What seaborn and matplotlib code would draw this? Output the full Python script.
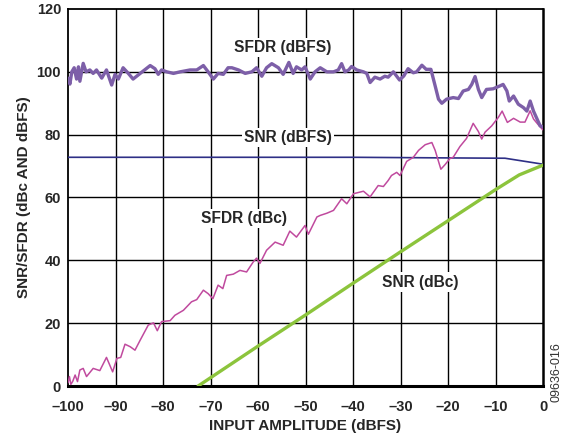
import matplotlib
matplotlib.use("Agg")
import matplotlib.pyplot as plt
import seaborn as sns

# Input amplitude (dBFS) and measured curves
sfdr_dbfs_x = [-100, -99.6, -99.2, -98.7, -98.2, -97.8, -97.5, -96.8, -96.2, -95.4,
               -94.7, -94, -92.9, -91.9, -90.8, -90.1, -89.4, -88.4, -87.3, -86.3,
               -84.8, -82.7, -81.7, -81, -80.3, -79.2, -77.8, -76.4, -74.3, -72.9,
               -71.5, -70.5, -69.4, -68.4, -67.3, -66.3, -65.5, -64.1, -62.7, -61.3,
               -60.3, -59.2, -58.2, -57.1, -55.7, -54.7, -53.5, -52.6, -51.9, -50.8,
               -50.1, -49, -48, -46.9, -45.5, -44.1, -43.1, -42.4, -41.7, -40.9,
               -40.3, -39.2, -37.8, -37.1, -36.4, -35.4, -34.3, -33.3, -32.6, -31.5,
               -30.2, -29.3, -28.4, -27.3, -26.6, -25.5, -24.6, -23.6, -22.7, -22,
               -21.3, -20.3, -18.9, -17.8, -16.8, -15.7, -15, -14.3, -13.6, -12.9,
               -11.9, -10.5, -9.1, -8.4, -7.6, -7.1, -6.2, -5.2, -4.1, -3.4,
               -2.7, -2, -0.6, 0]
sfdr_dbfs_y = [98, 96.1, 100, 101.3, 97.7, 101.6, 97, 102.7, 100, 100.6,
               99.5, 100.6, 98, 100.6, 95.8, 99.2, 97.7, 101.3, 99.5, 97.7,
               99.5, 102, 101, 99.2, 100.6, 100, 99.5, 100, 100.6, 100.6,
               102, 100, 97.7, 99.5, 99.2, 101.3, 101.3, 100.6, 99.5, 100,
               101.3, 98.6, 101.3, 102.6, 101.3, 99.2, 103, 99.5, 101.6, 100.6,
               101.6, 97.7, 100, 101.3, 100, 100, 100.6, 102.6, 100, 100.6,
               101.7, 100.6, 100, 99.5, 96.6, 98.3, 97.7, 98.6, 98.3, 100,
               97.4, 98.7, 101, 99.7, 100, 102.1, 100.8, 100.8, 95.5, 91.3,
               90, 91.3, 91.8, 91.5, 93.9, 94.4, 96, 98.5, 94.4, 91.8,
               94.4, 94.6, 95.5, 96, 93.9, 90.7, 92.3, 89.7, 88.6, 87.5,
               90.7, 87.5, 82.8, 82.5]

snr_dbfs_x = [-100, -80, -60, -40, -30, -20, -8, 0]
snr_dbfs_y = [72.8, 72.8, 72.8, 72.8, 72.7, 72.6, 72.5, 70.6]

sfdr_dbc_x = [-100, -99.7, -99.4, -99, -98.5, -98, -97.5, -96.8, -96.1, -94.7,
              -93.3, -91.9, -90.6, -89.7, -88.9, -88, -86.9, -85.9, -84.8, -83.1,
              -82, -81.2, -80.3, -78.5, -77.5, -75.7, -74, -72.9, -71.5, -70.5,
              -69.5, -68.4, -67.4, -66.6, -65.2, -63.8, -62.4, -61, -60.3, -59.6,
              -58.2, -56.4, -54.7, -53.3, -51.9, -50.1, -49.4, -47.6, -46.9, -45.5,
              -44.1, -42.4, -41.3, -39.9, -37.8, -36.4, -34.7, -33.6, -32.6, -31.9,
              -30.8, -30.1, -28.7, -27.3, -26.2, -24.8, -23.4, -22.7, -21.5, -20.6,
              -19.6, -18.9, -17.5, -16.1, -14.7, -13.6, -12.9, -12.2, -10.8, -9.4,
              -8.6, -7.5, -6.2, -4.8, -3.8, -2.7, -2.0, -0.8, 0]
sfdr_dbc_y = [1, 3, 0.5, 1.5, 3.5, 1.4, 5.1, 5.6, 3, 5.6,
              4.9, 9.1, 4.5, 8.8, 9.1, 13.3, 12.5, 11.4, 14.6, 19.4,
              20.1, 17.6, 20.5, 20.8, 22.5, 24.1, 26.8, 27.5, 30.5, 29.4,
              27.8, 32.1, 31, 35.2, 35.6, 36.8, 36.3, 39.5, 40.7, 39,
              43.2, 45.8, 44.8, 49.3, 47.4, 51.1, 48.3, 53.8, 54.3, 55,
              55.9, 59.6, 58, 61.2, 62, 60.2, 63.8, 63.5, 65.4, 67,
              68, 67, 71.5, 72.8, 75, 76.8, 77.5, 75, 69, 70.5,
              72.4, 72.8, 76.2, 78.8, 83.6, 81, 78.6, 80.8, 82.8, 85.5,
              87.5, 83.9, 85.2, 84, 84, 87.6, 85, 82.8, 81.5]

snr_dbc_x = [-72.6, -60, -50, -40, -30, -20, -10, -5, 0]
snr_dbc_y = [0, 12.7, 22.6, 32.7, 42.7, 52.6, 62.5, 67.2, 70.3]

x_ticks = list(range(-100, 1, 10))
x_tick_labels = [("\u2013" + str(-v)) if v < 0 else str(v) for v in x_ticks]
y_ticks = list(range(0, 121, 20))

sns.set_style("white")
plt.rcParams["font.family"] = ["Liberation Sans", "DejaVu Sans"]
plt.rcParams["font.weight"] = "bold"

fig = plt.figure(figsize=(5.65, 4.44), dpi=100)
ax = fig.add_axes([68 / 565, 1 - 386 / 444, (543 - 68) / 565, (386 - 9) / 444])

# grid underneath the curves
for v in x_ticks[1:-1]:
    ax.axvline(v, color="black", lw=1.0, zorder=1)
for v in y_ticks[1:-1]:
    ax.axhline(v, color="black", lw=1.0, zorder=1)

sns.lineplot(x=sfdr_dbfs_x, y=sfdr_dbfs_y, ax=ax, color="#7d5fa8", lw=2.4,
             sort=False, zorder=4, solid_joinstyle="round", solid_capstyle="round")
sns.lineplot(x=snr_dbfs_x, y=snr_dbfs_y, ax=ax, color="#2e2f86", lw=1.2,
             sort=False, zorder=3)
sns.lineplot(x=sfdr_dbc_x, y=sfdr_dbc_y, ax=ax, color="#c04a9e", lw=1.1,
             sort=False, zorder=3, solid_joinstyle="round")
sns.lineplot(x=snr_dbc_x, y=snr_dbc_y, ax=ax, color="#8cc43c", lw=2.4,
             sort=False, zorder=3)

ax.set_xlim(-100, 0)
ax.set_ylim(0, 120)
ax.set_xticks(x_ticks)
ax.set_xticklabels(x_tick_labels)
ax.set_yticks(y_ticks)
ax.tick_params(length=0, labelsize=10.5)
ax.tick_params(axis="x", pad=10)
ax.tick_params(axis="y", pad=5)
for lab in ax.get_xticklabels() + ax.get_yticklabels():
    lab.set_fontweight("bold")

for side in ["left", "top", "right"]:
    ax.spines[side].set_color("black")
    ax.spines[side].set_linewidth(1.3)
ax.spines["bottom"].set_color("black")
ax.spines["bottom"].set_linewidth(2.2)
ax.spines["right"].set_linewidth(1.8)

ax.set_xlabel("INPUT AMPLITUDE (dBFS)", fontsize=11, fontweight="bold", labelpad=4)
ax.set_ylabel("SNR/SFDR (dBc AND dBFS)", fontsize=11, fontweight="bold", labelpad=4)

box = dict(facecolor="white", edgecolor="none", pad=1.5)
ax.text(-54.7, 107.6, "SFDR (dBFS)", ha="center", va="center", fontsize=11.2,
        fontweight="bold", bbox=box, zorder=5)
ax.text(-53.7, 79.0, "SNR (dBFS)", ha="center", va="center", fontsize=11.2,
        fontweight="bold", bbox=box, zorder=5)
ax.text(-63.0, 53.3, "SFDR (dBc)", ha="center", va="center", fontsize=11.2,
        fontweight="bold", bbox=box, zorder=5)
ax.text(-25.9, 33.1, "SNR (dBc)", ha="center", va="center", fontsize=11.2,
        fontweight="bold", bbox=box, zorder=5)

fig.text(557 / 565, 1 - 372 / 444, "09636-016", rotation=90, ha="center",
         va="center", fontsize=9, fontweight="normal", color="#333333")

fig.savefig("out.png", dpi=100)
